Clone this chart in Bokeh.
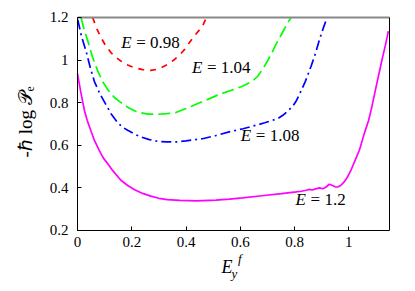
import math
from bokeh.plotting import figure
from bokeh.models import Label, FixedTicker, CustomJSTickFormatter, Range1d, LinearAxis
from bokeh.embed import file_html
from bokeh.resources import INLINE

# ---- data ----
x_ticks = [0, 0.2, 0.4, 0.6, 0.8, 1.0]
y_ticks = [0.2, 0.4, 0.6, 0.8, 1.0, 1.2]
x_lim = (0, 1.15)
y_lim = (0.2, 1.2)

red_x = [0.056, 0.07, 0.087, 0.105, 0.124, 0.14, 0.16, 0.185, 0.209, 0.24, 0.27, 0.30,
         0.331, 0.355, 0.378, 0.395, 0.412, 0.435, 0.461, 0.475]
red_y = [1.2, 1.15, 1.105, 1.065, 1.034, 1.015, 0.995, 0.977, 0.964, 0.955, 0.951, 0.958,
         0.979, 1.0, 1.026, 1.05, 1.081, 1.12, 1.159, 1.2]

green_x = [0.013, 0.025, 0.038, 0.055, 0.075, 0.092, 0.111, 0.135, 0.16, 0.19, 0.221, 0.26,
           0.295, 0.33, 0.363, 0.40, 0.437, 0.48, 0.522, 0.565, 0.608, 0.645, 0.665, 0.685,
           0.70, 0.715, 0.73, 0.745, 0.76, 0.775, 0.787]
green_y = [1.2, 1.14, 1.09, 1.015, 0.948, 0.9, 0.862, 0.825, 0.8, 0.774, 0.755, 0.746,
           0.745, 0.748, 0.753, 0.772, 0.792, 0.815, 0.838, 0.857, 0.877, 0.90, 0.925, 0.962,
           0.995, 1.03, 1.07, 1.105, 1.14, 1.175, 1.2]

blue_x = [0.001, 0.015, 0.032, 0.047, 0.062, 0.083, 0.105, 0.125, 0.148, 0.165, 0.185, 0.21,
          0.234, 0.265, 0.295, 0.33, 0.363, 0.40, 0.461, 0.51, 0.559, 0.61, 0.657, 0.69,
          0.718, 0.74, 0.757, 0.775, 0.794, 0.805, 0.818, 0.84, 0.861, 0.877, 0.892, 0.906, 0.92]
blue_y = [1.19, 1.11, 1.04, 0.965, 0.9, 0.84, 0.79, 0.745, 0.706, 0.685, 0.67, 0.652,
          0.638, 0.626, 0.618, 0.615, 0.615, 0.62, 0.63, 0.645, 0.662, 0.677, 0.693, 0.705,
          0.716, 0.726, 0.74, 0.76, 0.784, 0.805, 0.838, 0.9, 0.971, 1.03, 1.097, 1.15, 1.2]

mag_x = [0, 0.012, 0.026, 0.036, 0.05, 0.062, 0.08, 0.095, 0.111, 0.13, 0.16, 0.185, 0.209,
         0.24, 0.27, 0.3, 0.331, 0.378, 0.437, 0.51, 0.56, 0.608, 0.68, 0.752, 0.806, 0.825,
         0.843, 0.855, 0.865, 0.878, 0.892, 0.905, 0.915, 0.928, 0.94, 0.95, 0.959, 0.97,
         0.983, 0.995, 1.008, 1.022, 1.039, 1.057, 1.073, 1.085, 1.1, 1.112, 1.124, 1.135, 1.146]
mag_y = [0.936, 0.85, 0.76, 0.716, 0.665, 0.623, 0.575, 0.54, 0.513, 0.48, 0.435, 0.41, 0.391,
         0.373, 0.36, 0.35, 0.344, 0.34, 0.338, 0.341, 0.346, 0.352, 0.362, 0.372, 0.38, 0.383,
         0.388, 0.392, 0.389, 0.394, 0.399, 0.395, 0.402, 0.416, 0.41, 0.404, 0.403, 0.41,
         0.427, 0.45, 0.482, 0.525, 0.576, 0.654, 0.716, 0.78, 0.87, 0.94, 1.01, 1.07, 1.136]

energy_labels = ["= 0.98", "= 1.04", "= 1.08", "= 1.2"]
energy_lx = [0.161, 0.422, 0.602, 0.804]
energy_ly = [1.039, 0.92, 0.599, 0.302]

SERIF = "Liberation Serif"

# frame spans the whole canvas; the data box sits inside it
W, H = 407, 283
p = figure(width=W, height=H, output_backend="svg", toolbar_location=None,
           x_range=Range1d(-0.2838, 1.2164), y_range=Range1d(-0.0506, 1.2799),
           min_border=0, min_border_left=0, min_border_right=0,
           min_border_top=0, min_border_bottom=0)
p.grid.visible = False
p.outline_line_color = None
p.background_fill_color = "white"
p.border_fill_color = "white"

fmt = CustomJSTickFormatter(code="return Number(tick.toFixed(1)).toString();")
xa, ya = p.xaxis[0], p.yaxis[0]
xa.fixed_location = y_lim[0]
xa.bounds = x_lim
ya.fixed_location = x_lim[0]
ya.bounds = y_lim
for ax, ticks, standoff in ((xa, x_ticks, 7), (ya, y_ticks, 9)):
    ax.ticker = FixedTicker(ticks=ticks)
    ax.formatter = fmt
    ax.minor_tick_line_color = None
    ax.major_tick_in = 4
    ax.major_tick_out = 0
    ax.major_tick_line_color = "black"
    ax.axis_line_color = "black"
    ax.major_label_text_font = SERIF
    ax.major_label_text_font_size = "15px"
    ax.major_label_text_color = "black"
    ax.major_label_standoff = standoff

# frame borders on the right (black) and top (grey)
right_ax = LinearAxis(fixed_location=x_lim[1], bounds=y_lim, ticker=FixedTicker(ticks=[]),
                      axis_line_color="black", axis_line_width=1,
                      major_tick_line_color=None, minor_tick_line_color=None,
                      major_label_text_font_size="0px")
top_ax = LinearAxis(fixed_location=y_lim[1], bounds=x_lim, ticker=FixedTicker(ticks=[]),
                    axis_line_color="#888888", axis_line_width=2,
                    major_tick_line_color=None, minor_tick_line_color=None,
                    major_label_text_font_size="0px")
p.add_layout(right_ax, "right")
p.add_layout(top_ax, "above")

lw = 1.7
p.line(red_x, red_y, line_color="#ff0000", line_width=lw, line_dash="6 6")
p.line(green_x, green_y, line_color="#00ff00", line_width=lw, line_dash="12 5")
p.line(blue_x, blue_y, line_color="#0000ff", line_width=lw, line_dash="10 4 2 4")
p.line(mag_x, mag_y, line_color="#ff00ff", line_width=lw)

for t, lx, ly in zip(energy_labels, energy_lx, energy_ly):
    p.add_layout(Label(x=lx, y=ly, text="E", text_font=SERIF, text_font_style="italic",
                       text_font_size="17px", text_color="black"))
    p.add_layout(Label(x=lx, y=ly, x_offset=15, text=t, text_font=SERIF,
                       text_font_size="17px", text_color="black"))

# x axis label  E_y^f
p.add_layout(Label(x=0.531, y=-0.021, text="E", text_font=SERIF, text_font_style="italic",
                   text_font_size="18px", text_color="black"))
p.add_layout(Label(x=0.592, y=0.031, text="f", text_font=SERIF, text_font_style="italic",
                   text_font_size="13px", text_color="black"))
p.add_layout(Label(x=0.568, y=-0.038, text="y", text_font=SERIF, text_font_style="italic",
                   text_font_size="13px", text_color="black"))

# y axis label
p.add_layout(Label(x=-0.1917, y=0.709, text="-ℏ log 𝒫ₑ", angle=math.pi / 2,
                   text_align="center", text_baseline="alphabetic", text_font=SERIF,
                   text_font_size="19px", text_color="black"))

open("out.html", "w").write(file_html(p, INLINE))
